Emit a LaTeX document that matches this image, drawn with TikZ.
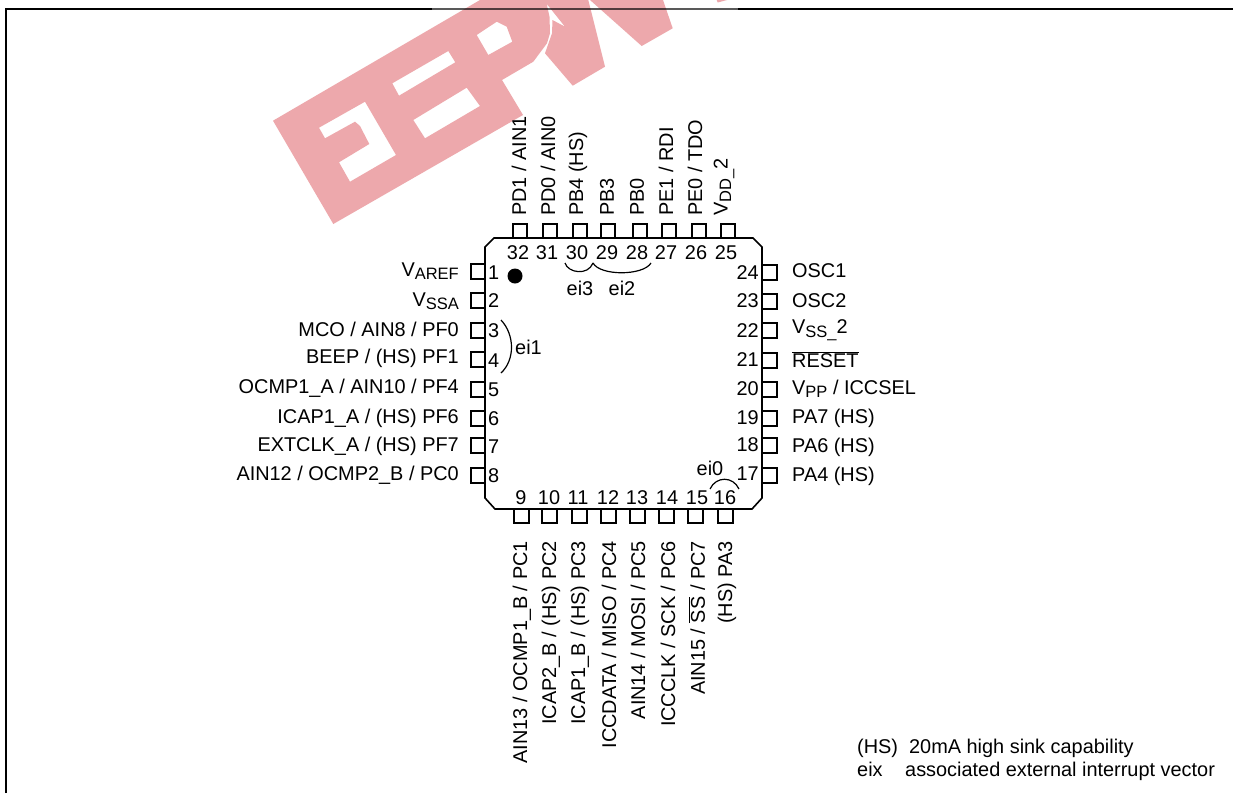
\documentclass[tikz,border=0pt]{standalone}
\usepackage{fontspec}
\setmainfont{Liberation Sans}
\usetikzlibrary{calc}
\definecolor{wm}{HTML}{EDA8AC}
\newcommand{\sbs}[1]{\raisebox{-3.5pt}{\fontsize{16.5}{16.5}\selectfont #1}}
\tikzset{
  lbl/.style={inner sep=0pt,font=\fontsize{19.9}{19.9}\selectfont},
  lab/.style={lbl,anchor=east},
  rab/.style={lbl,anchor=west},
  tab/.style={lbl,rotate=90,anchor=west},
  bab/.style={lbl,rotate=90,anchor=east},
  num/.style={lbl},
  pinline/.style={draw=black,line width=2pt},
  brace/.style={draw=black,line width=1.2pt},
}
\begin{document}
\begin{tikzpicture}[x=1pt,y=-1pt]
\useasboundingbox (0,0) rectangle (1233,793);
\fill[white] (0,0) rectangle (1233,793);
% frame
\draw[line width=2pt,black] (6,793) -- (6,9) -- (432,9);
\draw[line width=2pt,black] (738,9) -- (1233,9);
\draw[line width=2pt,black!65] (432,9) -- (738,9);
% watermark
\begin{scope}[blend mode=multiply]
\fill[wm,even odd rule]
 (273,120.7) -- (480,0) -- (588.3,0) -- (605,66.7) -- (572.7,85.7) -- (545,53.3) -- (552,33.3) -- (552.5,20) -- (565,26.7) -- (553,11.7) -- (546.7,4) -- (549.5,16.7) -- (550,33.3) -- (547,43.3) -- (533.3,61.7) -- (502,80) -- (523,115) -- (333.3,224) -- cycle
 (319,127.7) -- (365,101.7) -- (396,155) -- (350,181.7) -- (339,162.3) -- (369.3,144) -- (360,126) -- (355,121.7) -- (325,138.3) -- cycle
 (392.3,83.3) -- (448.3,51) -- (455.3,62.3) -- (399,95.7) -- cycle
 (413.3,120) -- (466.7,87.7) -- (480,106) -- (425,138.3) -- cycle
 (476.7,35) -- (496.7,21.7) -- (506.7,26.7) -- (512.3,41.7) -- (488.3,55) -- cycle;
\fill[wm] (590,0) -- (641.7,46) -- (672.7,28.3) -- (663,0) -- cycle;
\fill[wm] (716.7,0) -- (727,0) -- (717.7,2.5) -- cycle;
\end{scope}
% chip
\draw[line width=1.6pt] (494,238) -- (753,238) -- (762,247) -- (762,498) -- (752,509) -- (495,509) -- (485,498) -- (485,247) -- cycle;
% pins
\foreach \x in {520,549.5,579.5,608,639.5,669,698.5,727.5}
  \draw[pinline] (\x-7,238) -- (\x-7,224) -- (\x+7,224) -- (\x+7,238);
\foreach \x in {521,549.5,579,608.5,637.5,666.5,695.5,725.5}
  \draw[pinline] (\x-7.5,509) -- (\x-7.5,523) -- (\x+7.5,523) -- (\x+7.5,509);
\foreach \y in {271,300.5,330,359.5,389,418,445.5,475}
  \draw[pinline] (485,\y-7.5) -- (470.5,\y-7.5) -- (470.5,\y+7.5) -- (485,\y+7.5);
\foreach \y in {272,301.5,330.5,360.5,389,418,445.5,475.5}
  \draw[pinline] (762,\y-7.5) -- (776.5,\y-7.5) -- (776.5,\y+7.5) -- (762,\y+7.5);
% dot
\fill (515,276) circle (7.5);
% braces
\draw[brace] (565,263) .. controls (568,273) and (588,276) .. (593,263);
\draw[brace] (593,263) .. controls (600,276) and (643,276) .. (651,263);
\draw[brace] (501,320) .. controls (515,335) and (515,360) .. (501,373);
\draw[brace] (710,489) .. controls (716,476) and (733,476) .. (739,489);
% numbers
\foreach \n/\x in {32/518,31/547,30/577,29/607,28/637,27/666,26/696,25/726}
  \node[num] (n\n) at (\x,253) {\n};
\foreach \n/\x in {9/521,10/549,11/578,12/608,13/637,14/667,15/697,16/725}
  \node[num] (n\n) at (\x,498) {\n};
\foreach \n/\y in {1/273,2/301,3/331,4/361,5/390,6/419,7/447,8/476}
  \node[num,anchor=west] (n\n) at (488,\y) {\n};
\foreach \n/\y in {24/273,23/301,22/331,21/360,20/389,19/418,18/445,17/474}
  \node[num,anchor=east] (n\n) at (759,\y) {\n};
% group labels
\node[lbl] (ei3) at (580,288) {ei3};
\node[lbl] (ei2) at (622,288) {ei2};
\node[lbl,anchor=west] (ei1) at (515,347) {ei1};
\node[lbl] (ei0) at (710,468) {ei0};
% left labels
\node[lab] (l1) at (459,271) {V\sbs{AREF}};
\node[lab] (l2) at (459,301) {V\sbs{SSA}};
\node[lab] (l3) at (459,329) {MCO / AIN8 / PF0};
\node[lab] (l4) at (459,358) {BEEP / (HS) PF1};
\node[lab] (l5) at (459,388) {OCMP1\_A / AIN10 / PF4};
\node[lab] (l6) at (459,418) {ICAP1\_A / (HS) PF6};
\node[lab] (l7) at (459,446) {EXTCLK\_A / (HS) PF7};
\node[lab] (l8) at (459,475) {AIN12 / OCMP2\_B / PC0};
% right labels
\node[rab] (r24) at (792,271) {OSC1};
\node[rab] (r23) at (792,301) {OSC2};
\node[rab] (r22) at (792,330) {V\sbs{SS\_}2};
\node[rab] (r21) at (792,360) {$\overline{\mbox{RESET}}$};
\node[rab] (r20) at (792,389) {V\sbs{PP} / ICCSEL};
\node[rab] (r19) at (792,418) {PA7 (HS)};
\node[rab] (r18) at (792,447) {PA6 (HS)};
\node[rab] (r17) at (792,476) {PA4 (HS)};
% top labels
\node[tab] (t32) at (519,216) {PD1 / AIN1};
\node[tab] (t31) at (548,216) {PD0 / AIN0};
\node[tab] (t30) at (578,216) {PB4 (HS)};
\node[tab] (t29) at (607,216) {PB3};
\node[tab] (t28) at (637,216) {PB0};
\node[tab] (t27) at (666,216) {PE1 / RDI};
\node[tab] (t26) at (695,216) {PE0 / TDO};
\node[tab] (t25) at (724,216) {V\sbs{DD\_}2};
% bottom labels
\node[bab] (b9) at (522,541) {AIN13 / OCMP1\_B / PC1};
\node[bab] (b10) at (551,541) {ICAP2\_B / (HS) PC2};
\node[bab] (b11) at (580,541) {ICAP1\_B / (HS) PC3};
\node[bab] (b12) at (609,541) {ICCDATA / MISO / PC4};
\node[bab] (b13) at (638,541) {AIN14 / MOSI / PC5};
\node[bab] (b14) at (668,541) {ICCCLK / SCK / PC6};
\node[bab] (b15) at (697,541) {AIN15 / $\overline{\mbox{SS}}$ / PC7};
\node[bab] (b16) at (727,541) {(HS) PA3};
% legend
\node[lbl,anchor=base west] (k1) at (857,753) {(HS)\ \ 20mA high sink capability};
\node[lbl,anchor=base west] (k2) at (857,776) {eix};
\node[lbl,anchor=base west] (k3) at (905,776) {associated external interrupt vector};
\end{tikzpicture}
\end{document}
